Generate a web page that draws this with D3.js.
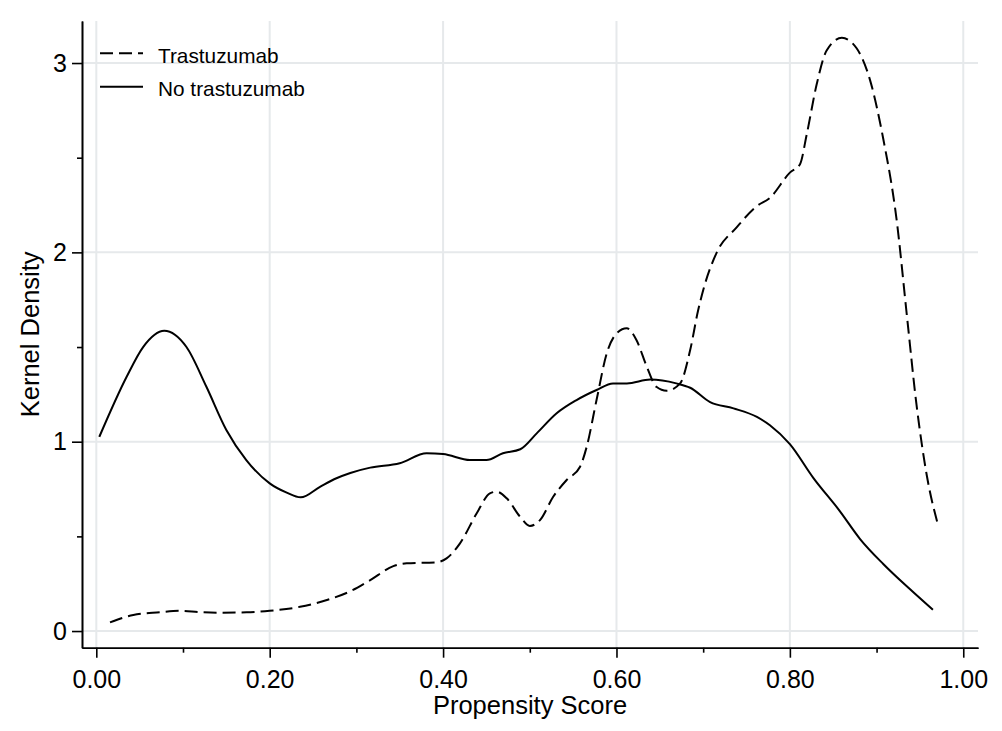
<!DOCTYPE html>
<html>
<head>
<meta charset="utf-8">
<script src="https://cdn.jsdelivr.net/npm/d3@7"></script>
<style>
  html, body { margin: 0; padding: 0; background: #fff; }
  svg { display: block; font-family: "Liberation Sans", Arial, sans-serif; }
</style>
</head>
<body>
<svg id="chart" width="1002" height="731"></svg>
<script>
// ---- Data ----
const xMajorTicks = [0, 0.2, 0.4, 0.6, 0.8, 1.0];
const xMinorTicks = [0.1, 0.3, 0.5, 0.7, 0.9];
const yMajorTicks = [0, 1, 2, 3];
const yMinorTicks = [0.5, 1.5, 2.5];

const seriesNames = ["Trastuzumab", "No trastuzumab"];

const trastuzumabX = [0.0158,0.0427,0.0735,0.0965,0.1196,0.1427,0.1734,0.200,0.235,0.266,0.293,0.316,0.3426,0.358,0.3926,0.404,0.4195,0.4388,0.454,0.4618,0.4734,0.4888,0.500,0.5118,0.527,0.5426,0.558,0.5657,0.577,0.5888,0.6003,0.6118,0.623,0.635,0.646,0.658,0.6734,0.685,0.694,0.700,0.7156,0.7386,0.7617,0.777,0.800,0.8117,0.8194,0.831,0.8424,0.860,0.877,0.8924,0.9077,0.923,0.935,0.946,0.958,0.970];
const trastuzumabY = [0.046,0.085,0.099,0.107,0.100,0.097,0.099,0.107,0.128,0.164,0.210,0.269,0.343,0.358,0.363,0.384,0.463,0.622,0.727,0.736,0.701,0.604,0.555,0.586,0.709,0.798,0.868,0.974,1.220,1.467,1.573,1.599,1.537,1.396,1.290,1.269,1.308,1.484,1.690,1.800,1.999,2.132,2.244,2.288,2.421,2.466,2.622,2.889,3.066,3.133,3.078,2.911,2.600,2.177,1.665,1.198,0.820,0.575];

const noTrastuzumabX = [0.0035,0.035,0.054,0.0784,0.104,0.127,0.150,0.173,0.200,0.2196,0.2358,0.258,0.277,0.293,0.316,0.350,0.381,0.400,0.431,0.450,0.469,0.489,0.508,0.531,0.554,0.577,0.596,0.612,0.639,0.669,0.685,0.708,0.735,0.762,0.777,0.800,0.827,0.858,0.881,0.908,0.939,0.965];
const noTrastuzumabY = [1.026,1.343,1.500,1.586,1.500,1.290,1.062,0.903,0.780,0.731,0.706,0.762,0.807,0.835,0.863,0.886,0.939,0.935,0.903,0.903,0.939,0.960,1.044,1.150,1.220,1.273,1.308,1.308,1.328,1.308,1.285,1.209,1.176,1.131,1.087,0.987,0.809,0.631,0.486,0.353,0.219,0.112];

// ---- Layout ----
const svg = d3.select("#chart");
const x = d3.scaleLinear().domain([-0.0165, 1.017]).range([82, 978]);
const y = d3.scaleLinear().domain([-0.088, 3.222]).range([647.7, 21]);
const [xl, xr] = x.range();
const [yb, yt] = y.range();

// gridlines
const grid = svg.append("g").attr("stroke", "#e6e9eb").attr("stroke-width", 2);
grid.selectAll("line.v").data(xMajorTicks).join("line")
  .attr("x1", d => x(d)).attr("x2", d => x(d))
  .attr("y1", yt).attr("y2", yb);
grid.selectAll("line.h").data(yMajorTicks).join("line")
  .attr("x1", xl).attr("x2", xr)
  .attr("y1", d => y(d)).attr("y2", d => y(d));

// axes
const fontSize = 25;
const xAxisG = svg.append("g").attr("transform", `translate(0,${yb})`)
  .call(d3.axisBottom(x).tickValues(xMajorTicks).tickFormat(d3.format(".2f"))
    .tickSize(10).tickSizeOuter(0).tickPadding(13));
svg.append("g").attr("transform", `translate(0,${yb})`)
  .call(d3.axisBottom(x).tickValues(xMinorTicks).tickFormat("")
    .tickSize(5).tickSizeOuter(0));
const yAxisG = svg.append("g").attr("transform", `translate(${xl},0)`)
  .call(d3.axisLeft(y).tickValues(yMajorTicks).tickFormat(d3.format("d"))
    .tickSize(10).tickSizeOuter(0).tickPadding(5));
svg.append("g").attr("transform", `translate(${xl},0)`)
  .call(d3.axisLeft(y).tickValues(yMinorTicks).tickFormat("")
    .tickSize(5).tickSizeOuter(0));

svg.selectAll(".domain").attr("stroke", "#000").attr("stroke-width", 1.6);
svg.selectAll(".tick line").attr("stroke", "#000").attr("stroke-width", 1.6);
svg.selectAll(".tick text").attr("font-size", fontSize)
  .attr("font-family", "Liberation Sans, Arial, sans-serif").attr("fill", "#000");

// axis titles
svg.append("text").attr("x", (xl + xr) / 2).attr("y", 713.5)
  .attr("text-anchor", "middle").attr("font-size", 25.5).attr("fill", "#000")
  .text("Propensity Score");
svg.append("text")
  .attr("transform", `translate(38.5,${(yt + yb) / 2}) rotate(-90)`)
  .attr("text-anchor", "middle").attr("font-size", 25.5).attr("fill", "#000")
  .text("Kernel Density");

// curves
const line = d3.line().x(d => x(d[0])).y(d => y(d[1])).curve(d3.curveMonotoneX);
const trData = trastuzumabX.map((v, i) => [v, trastuzumabY[i]]);
const ntData = noTrastuzumabX.map((v, i) => [v, noTrastuzumabY[i]]);

svg.append("path").datum(ntData).attr("d", line)
  .attr("fill", "none").attr("stroke", "#000").attr("stroke-width", 2);
svg.append("path").datum(trData).attr("d", line)
  .attr("fill", "none").attr("stroke", "#000").attr("stroke-width", 2)
  .attr("stroke-dasharray", "13,6");

// legend
const legend = svg.append("g");
const legendRows = [
  { name: seriesNames[0], dash: "13,6", ly: 53.3, ty: 62.5 },
  { name: seriesNames[1], dash: null, ly: 86.7, ty: 95.5 }
];
legendRows.forEach(r => {
  legend.append("line").attr("x1", 100).attr("x2", 143)
    .attr("y1", r.ly).attr("y2", r.ly)
    .attr("stroke", "#000").attr("stroke-width", 2)
    .attr("stroke-dasharray", r.dash);
  legend.append("text").attr("x", 158).attr("y", r.ty)
    .attr("font-size", 20.8).attr("fill", "#000").text(r.name);
});
</script>
</body>
</html>
